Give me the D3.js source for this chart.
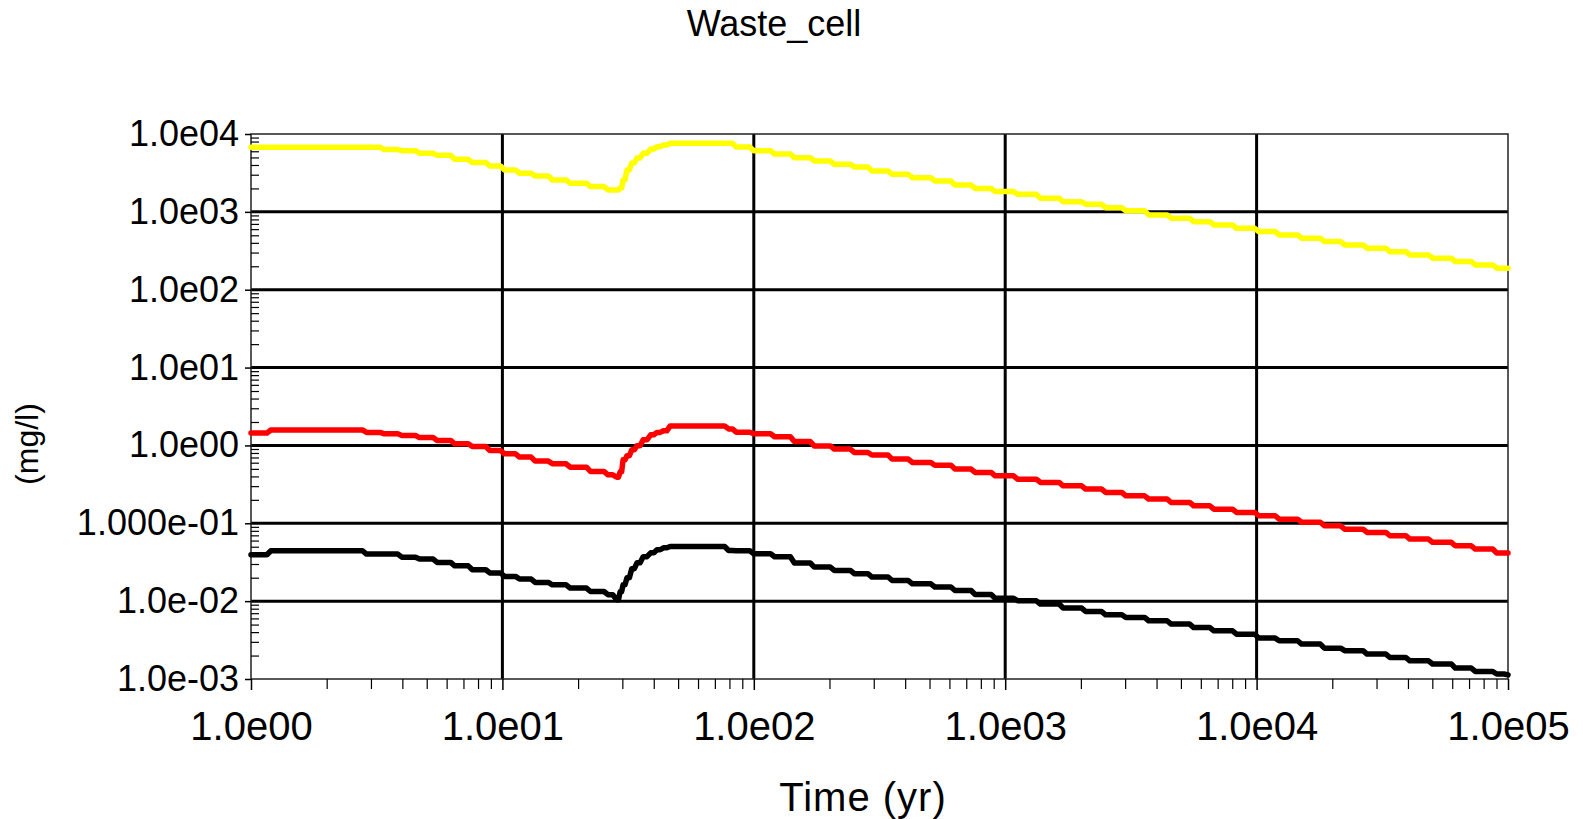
<!DOCTYPE html>
<html>
<head>
<meta charset="utf-8">
<script src="https://cdn.jsdelivr.net/npm/d3@7/dist/d3.min.js"></script>
<style>
  body { margin: 0; background: #fff; }
  text { font-family: "Liberation Sans", Arial, sans-serif; fill: #000; }
</style>
</head>
<body>
<svg id="chart" width="1583" height="819"></svg>
<script>
// time steps (yr)
const times = [1, 1.2, 2.45, 2.88, 3.39, 3.98, 4.68, 5.50, 6.46, 7.59,
  8.91, 10.2, 11.7, 13.5, 15.8, 18.6, 22.4, 26.3, 28.5,
  29.4, 30.2, 31.3, 32.7, 34.3, 36.3, 38.9, 41.2, 43.7, 46.5,
  79.4, 85.1, 100, 121,
  145, 174, 209, 251, 295, 355, 427, 525, 631, 759,
  912, 1120, 1380, 1700, 2090, 2510, 3020, 3720, 4570, 5620,
  6760, 8320, 10200, 12300, 15100, 18600, 22400, 27500, 33900, 40700,
  50100, 61700, 74100, 90200, 100000]

// concentrations (mg/l)
const yellowVals = [6750, 6750, 6750, 6750, 6310, 6110, 5650, 5320, 4730, 4290,
  3880, 3450, 3130, 2890, 2570, 2330, 2110, 1910, 1910,
  2030, 2570, 3450, 4250, 4920, 5650, 6410, 6870, 7230, 7600,
  7600, 6810, 6110, 5530,
  4970, 4500, 4080, 3770, 3350, 3030, 2750, 2490, 2210, 2000,
  1820, 1680, 1490, 1350, 1250, 1130, 1030, 914, 828, 748,
  679, 615, 558, 506, 458, 415, 376, 341, 308, 280,
  254, 230, 208, 189, 189]

const redVals = [1.44, 1.58, 1.58, 1.47, 1.41, 1.34, 1.26, 1.16, 1.05, 0.97,
  0.861, 0.780, 0.708, 0.629, 0.581, 0.526, 0.463, 0.419, 0.391,
  0.458, 0.653, 0.736, 0.879, 0.989, 1.18, 1.37, 1.47, 1.54, 1.78,
  1.63, 1.48, 1.41, 1.29,
  1.12, 0.986, 0.897, 0.813, 0.752, 0.667, 0.605, 0.558, 0.497, 0.450,
  0.407, 0.369, 0.335, 0.303, 0.275, 0.249, 0.225, 0.205, 0.185, 0.168,
  0.152, 0.138, 0.125, 0.113, 0.103, 0.0929, 0.0841, 0.0764, 0.0692, 0.0627,
  0.0569, 0.0514, 0.0467, 0.0414, 0.0414]

const blackVals = [0.0394, 0.0444, 0.0444, 0.0402, 0.0402, 0.0367, 0.0347, 0.0314, 0.0284, 0.0253,
  0.0230, 0.0208, 0.0192, 0.0174, 0.0162, 0.0147, 0.0133, 0.0121, 0.0104,
  0.0132, 0.0162, 0.0200, 0.0261, 0.0311, 0.0372, 0.0418, 0.0457, 0.0484, 0.0504,
  0.0448, 0.0444, 0.0406, 0.0372,
  0.0309, 0.0274, 0.0248, 0.0225, 0.0204, 0.0184, 0.0167, 0.0152, 0.0137, 0.0122,
  0.0109, 0.0101, 0.00918, 0.00815, 0.00736, 0.00668, 0.00617, 0.00560, 0.00507, 0.00458,
  0.00416, 0.00377, 0.00335, 0.00310, 0.00281, 0.00249, 0.00231, 0.00209, 0.00189, 0.00171,
  0.00156, 0.00138, 0.00125, 0.00116, 0.00113]

const xTicks = [1, 10, 100, 1000, 10000, 100000]
const xLabels = ["1.0e00", "1.0e01", "1.0e02", "1.0e03", "1.0e04", "1.0e05"]
const yTicks = [1e4, 1e3, 1e2, 1e1, 1, 1e-1, 1e-2, 1e-3]
const yLabels = ["1.0e04", "1.0e03", "1.0e02", "1.0e01", "1.0e00", "1.000e-01", "1.0e-02", "1.0e-03"]

const series = [
  { name: "yellow", values: yellowVals, color: "#ffff00" },
  { name: "red", values: redVals, color: "#ff0000" },
  { name: "black", values: blackVals, color: "#000000" }
]

const plotLeft = 251, plotRight = 1508, plotTop = 134, plotBottom = 679

const x = d3.scaleLog().domain([1, 1e5]).range([plotLeft, plotRight])
const y = d3.scaleLog().domain([1e-3, 1e4]).range([plotBottom, plotTop])

// minor ticks 2..9 of every decade
const minorX = [], minorY = []
xTicks.slice(0, -1).forEach(d => { for (let k = 2; k < 10; k++) minorX.push(d * k) })
yTicks.slice(1).forEach(d => { for (let k = 2; k < 10; k++) minorY.push(d * k) })

const svg = d3.select("#chart")

// thick major grid lines
svg.append("g")
  .selectAll("line")
  .data(yTicks.filter(d => d < 1e4 && d > 1e-3))
  .enter()
  .append("line")
  .attr("x1", plotLeft).attr("x2", plotRight)
  .attr("y1", d => y(d)).attr("y2", d => y(d))
  .attr("stroke", "#000").attr("stroke-width", 3)

svg.append("g")
  .selectAll("line")
  .data(xTicks.filter(d => d > 1 && d < 1e5))
  .enter()
  .append("line")
  .attr("x1", d => x(d)).attr("x2", d => x(d))
  .attr("y1", plotTop).attr("y2", plotBottom)
  .attr("stroke", "#000").attr("stroke-width", 3)

// frame
svg.append("rect")
  .attr("x", plotLeft).attr("y", plotTop)
  .attr("width", plotRight - plotLeft).attr("height", plotBottom - plotTop)
  .attr("fill", "none").attr("stroke", "#222").attr("stroke-width", 1.5)

// y axis
svg.append("g")
  .attr("transform", `translate(${plotLeft},0)`)
  .call(d3.axisLeft(y).tickValues(yTicks).tickFormat((d, i) => yLabels[i])
    .tickSize(6).tickSizeOuter(0).tickPadding(6))
  .call(g => g.select(".domain").remove())
  .call(g => g.selectAll("line").attr("stroke-width", 1.5))
  .call(g => g.selectAll("text").attr("font-size", 36).attr("font-family", null))

svg.append("g")
  .attr("transform", `translate(${plotLeft},0)`)
  .call(d3.axisRight(y).tickValues(minorY).tickFormat("").tickSize(8).tickSizeOuter(0))
  .call(g => g.select(".domain").remove())
  .call(g => g.selectAll("line").attr("stroke-width", 1.2))

// x axis
svg.append("g")
  .attr("transform", `translate(0,${plotBottom})`)
  .call(d3.axisBottom(x).tickValues(xTicks).tickFormat((d, i) => xLabels[i])
    .tickSize(11).tickSizeOuter(0).tickPadding(22))
  .call(g => g.select(".domain").remove())
  .call(g => g.selectAll("line").attr("stroke-width", 1.5))
  .call(g => g.selectAll("text").attr("font-size", 40).attr("font-family", null))

svg.append("g")
  .attr("transform", `translate(0,${plotBottom})`)
  .call(d3.axisBottom(x).tickValues(minorX).tickFormat("").tickSize(10).tickSizeOuter(0))
  .call(g => g.select(".domain").remove())
  .call(g => g.selectAll("line").attr("stroke-width", 1.2))

// step curve with short slanted risers, like the original plot
function slantStep(context) {
  let prev = null
  return {
    areaStart() {}, areaEnd() {},
    lineStart() { prev = null },
    lineEnd() {},
    point(px, py) {
      if (!prev) context.moveTo(px, py)
      else {
        const dx = Math.min(4, (px - prev[0]) / 2)
        context.lineTo(px - dx, prev[1])
        context.lineTo(px, py)
      }
      prev = [px, py]
    }
  }
}

const line = d3.line()
  .x((d, i) => x(times[i]))
  .y(d => y(d))
  .curve(slantStep)

svg.append("g")
  .selectAll("path")
  .data(series)
  .enter()
  .append("path")
  .attr("d", s => line(s.values))
  .attr("fill", "none")
  .attr("stroke", s => s.color)
  .attr("stroke-width", 5.5)
  .attr("stroke-linejoin", "round")
  .attr("stroke-linecap", "round")

// titles
svg.append("text")
  .attr("x", 774).attr("y", 36)
  .attr("text-anchor", "middle")
  .attr("font-size", 36)
  .text("Waste_cell")

svg.append("text")
  .attr("x", 863).attr("y", 811)
  .attr("text-anchor", "middle")
  .attr("font-size", 40)
  .attr("letter-spacing", 1)
  .text("Time (yr)")

svg.append("text")
  .attr("transform", "translate(38,444) rotate(-90)")
  .attr("text-anchor", "middle")
  .attr("font-size", 32)
  .text("(mg/l)")
</script>
</body>
</html>
